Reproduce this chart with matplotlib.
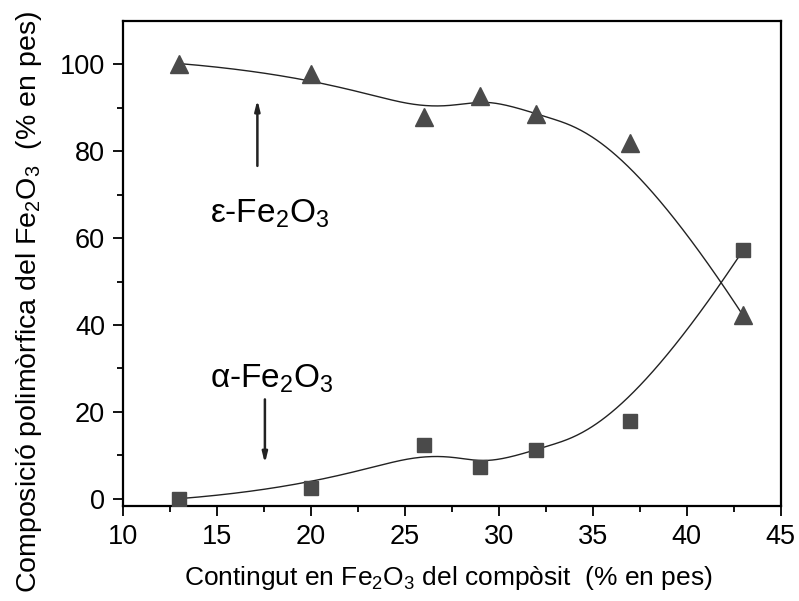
import numpy as np
import matplotlib
matplotlib.use("Agg")
import matplotlib.pyplot as plt

plt.rcParams["font.family"] = ["Liberation Sans", "DejaVu Sans"]
plt.rcParams["mathtext.fontset"] = "custom"
plt.rcParams["mathtext.rm"] = "Liberation Sans"
plt.rcParams["mathtext.it"] = "Liberation Sans"

# Fe2O3 content of the composite (% by weight)
contingut = [13, 20, 26, 29, 32, 37, 43]
# polymorph fractions (% by weight)
epsilon_pct = [100.2, 97.7, 87.9, 92.8, 88.6, 81.9, 42.2]
alpha_pct = [0.0, 2.4, 12.3, 7.3, 11.3, 18.0, 57.2]

x_ticks = [10, 15, 20, 25, 30, 35, 40, 45]
y_ticks = [0, 20, 40, 60, 80, 100]


def bspline(px, py, n=400, k=3):
    # clamped B-spline using the data points as control points (Origin style)
    px = np.asarray(px, float)
    py = np.asarray(py, float)
    m = len(px)
    knots = np.concatenate([np.zeros(k), np.linspace(0, 1, m - k + 1), np.ones(k)])
    t = np.linspace(0, 1, n)
    t[-1] -= 1e-9
    # degree-0 basis
    B = np.zeros((n, len(knots) - 1))
    for i in range(len(knots) - 1):
        B[:, i] = (t >= knots[i]) & (t < knots[i + 1])
    for d in range(1, k + 1):
        Bn = np.zeros((n, len(knots) - 1 - d))
        for i in range(len(knots) - 1 - d):
            a = knots[i + d] - knots[i]
            b = knots[i + d + 1] - knots[i + 1]
            term = 0
            if a > 0:
                term = term + (t - knots[i]) / a * B[:, i]
            if b > 0:
                term = term + (knots[i + d + 1] - t) / b * B[:, i + 1]
            Bn[:, i] = term
        B = Bn
    return B @ px, B @ py


fig = plt.figure(figsize=(7.99, 6.01), dpi=100)
ax = fig.add_axes([0.154, 0.158, 0.823, 0.807])

mark_col = "#4a4a4a"
ex, ey = bspline(contingut, epsilon_pct)
axx, axy = bspline(contingut, alpha_pct)
ax.plot(ex, ey, color="#222222", lw=1.0, zorder=2)
ax.plot(axx, axy, color="#222222", lw=1.0, zorder=2)
ax.plot(contingut, epsilon_pct, linestyle="none", marker="^", ms=13.5,
        color=mark_col, mec=mark_col, zorder=3)
ax.plot(contingut, alpha_pct, linestyle="none", marker="s", ms=10.5,
        color=mark_col, mec=mark_col, zorder=3)

ax.set_xlim(10, 45)
ax.set_ylim(-1.7, 110)
ax.set_xticks(x_ticks)
ax.set_yticks(y_ticks)
ax.set_xticks(np.arange(12.5, 45, 5), minor=True)
ax.set_yticks(np.arange(10, 110, 20), minor=True)
ax.tick_params(which="both", direction="out", top=False, right=False,
               width=1.3, labelsize=19.5)
ax.tick_params(which="major", length=7, pad=6)
ax.tick_params(which="minor", length=4.5)
for s in ax.spines.values():
    s.set_linewidth(1.6)

fig.text(0.561, 0.038, r"Contingut en Fe$_2$O$_3$ del compòsit  (% en pes)",
         ha="center", va="center", fontsize=19)
fig.text(0.036, 0.498, r"Composició polimòrfica del Fe$_2$O$_3$  (% en pes)",
         ha="center", va="center", rotation=90, fontsize=20.5)

# labels with arrows
ax.text(17.8, 65.5, r"ε-Fe$_2$O$_3$", ha="center", va="center", fontsize=24)
ax.annotate("", xy=(17.15, 92.5), xytext=(17.15, 76),
            arrowprops=dict(arrowstyle="-|>,head_width=0.15,head_length=0.6",
                            color="#222222", lw=1.8))
ax.text(17.9, 27.5, r"α-Fe$_2$O$_3$", ha="center", va="center", fontsize=24)
ax.annotate("", xy=(17.55, 7.5), xytext=(17.55, 23.5),
            arrowprops=dict(arrowstyle="-|>,head_width=0.15,head_length=0.6",
                            color="#222222", lw=1.8))

fig.savefig("out.png", dpi=100)
